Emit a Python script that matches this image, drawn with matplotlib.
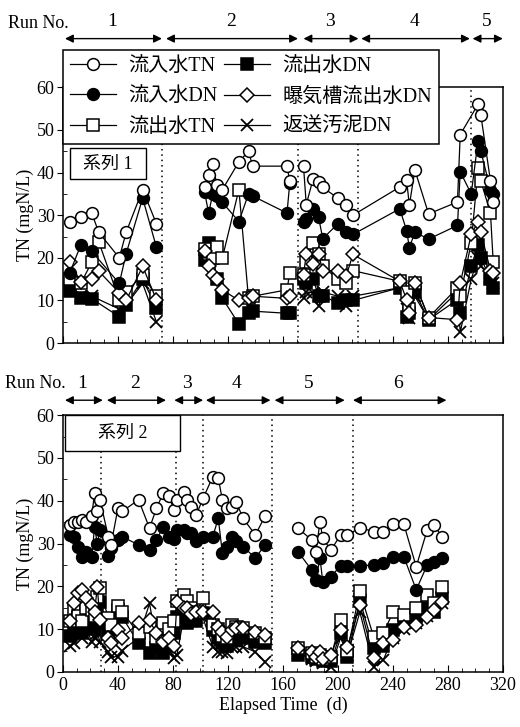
import numpy as np
import matplotlib
matplotlib.use("Agg")
import matplotlib.pyplot as plt
import matplotlib.transforms as mtransforms
from matplotlib.patches import Rectangle
from matplotlib.lines import Line2D
from matplotlib.ticker import MultipleLocator

plt.rcParams["font.family"] = ["Liberation Serif", "Noto Sans CJK JP"]
plt.rcParams["font.size"] = 12

# ---- series 1 (top) ----
days_s1 = [5, 13, 21, 26, 41, 46, 58, 68,
           103, 106, 109, 112, 116, 128, 135, 138, 163, 165,
           175, 177, 182, 186, 189, 200, 206, 211,
           245, 250, 252, 256, 266, 287, 289,
           297, 302, 304, 311, 313]
inf_tn_s1 = [28.5, 29.5, 30.5, 26, 20, 26, 36, 28,
             36.5, 39.5, 42, 37, 36, 42.5, 45, 41.5, 41.5, 38,
             41.5, 32.5, 38.5, 37.8, 36.5, 34, 32.3, 30,
             36.6, 38.2, 32.3, 40.6, 30.3, 33.1, 48.9,
             np.nan, 56, 53.5, 38, 33]
inf_dn_s1 = [16.5, 23, 21.5, np.nan, 14, 21, 34, 22.5,
             35.5, 30.5, 35, 34.5, 33, 28.5, 35, 34.5, 30.5, 37.5,
             28.5, 29, 31.5, 29.5, 24.5, 28, 26, 25.5,
             31.5, 26.4, 22.4, 26, 24.4, 27.6, 40.2,
             35, 47.5, 45, 36, 35]
eff_tn_s1 = [15, 14, 19, 23.8, 10.2, 12, 16, 11,
             22, 21, 20, 22.5, 20, 36, 10.5, 11, 12.5, 16.5,
             16, 19, 23.5, 21, 18, 15, 14, 17,
             14.5, 12, 8, 14, 6, 13, 11,
             23.5, 41, 38, 30.5, 19]
eff_dn_s1 = [12.2, 10.7, 10.4, np.nan, 6.2, 9, 15, 8.3,
             19.5, 23.5, 21, 15, 10.5, 4.5, 7, 7.5, 7, 7,
             15, 14, 15, 11, 11, 9.5, 10, 10,
             13, 6.2, 7, 12, 5.5, 10.2, 7,
             18, 23, 20, 15, 13]
aer_dn_s1 = [19, 14.3, 15, 16.9, 11.8, 10, 18, 10.2,
             21.5, 18, 16, 15, 12.5, 10, 10.5, 11, 10.5, 11,
             16, 20.8, 18.5, 20.8, 17, 17, 15.7, 20.8,
             14.5, 10.2, 7, 14.1, 6, 5.5, 14,
             25.5, 28.5, 26, 17, 16.5]
ret_dn_s1 = [13, 11, 11, np.nan, 8, 9, 14, 5,
             np.nan, np.nan, np.nan, np.nan, np.nan, np.nan, np.nan, np.nan, np.nan, np.nan,
             10.5, 12, 11.8, 8.6, 12, 11, 8.6, 11,
             13, 8, 6, 11, 5.5, 12, 2.5,
             15, 20, 18, 15.5, 14]
segs_s1 = [(0, 8), (8, 18), (18, 38)]

# ---- series 2 (bottom) ----
days_s2 = [5, 8, 11, 14, 17, 21, 23, 25, 27, 33, 35, 40, 43, 55, 63, 68, 73,
           77, 81, 83, 88, 90, 93, 97, 102, 109, 113, 116, 119, 123, 126, 131, 140, 147,
           171, 181, 184, 187, 189, 195, 202, 207, 216, 226, 233, 240, 248, 257, 265, 270, 276]
inf_tn_s2 = [34.3, 35, 35.1, 35.5, 35, 36.5, 41.8, 37.5, 40.2, 31.6, 29.7, 38.2, 37.5, 40.2, 33.6, 38.2, 41.8,
             41, 37.8, 40.2, 42.1, 40.2, 38.6, 36.7, 40.6, 45.6, 45.3, 40.2, 38.2, 38.6, 39.8, 35.9, 32, 36.4,
             33.6, 30.8, 28.1, 35.1, 31.2, 28.5, 32, 32, 33.7, 32.8, 32.8, 34.5, 34.5, 24.6, 33.2, 34.3, 31.5]
inf_dn_s2 = [32, 31.6, 29.3, 26.9, 28, 26.9, 33.9, 30, 33.2, 27.1, 29, 30.8, 31.6, 29.7, 28.5, 30.8, 33.9,
             31.6, 31, 33.2, 33.2, 32.5, 32.4, 30.5, 31.6, 31.6, 35.9, 27.7, 29.3, 31.6, 30.5, 29.3, 26.6, 29.7,
             28.1, 23.8, 21.5, 26.6, 21.1, 22.3, 24.8, 24.8, 24.8, 25, 25.4, 26.9, 26.9, 19.2, 25, 25.8, 26.6]
eff_tn_s2 = [12, 14.5, 13, 12, 15, 14.5, 13, 17.5, 19.5, 12.5, 11, 15.3, 14.1, 9, 10.6, 8, 11.4,
             10, 12, 16.5, 18, 16.5, 15, 14, 17.2, 11, 10, 8.5, 8, 11, 10.5, 10.2, 9, 7.9,
             5.5, 4.5, 3.5, 4, 3, 3.5, 12.1, 5, 18.8, 8.2, 9, 13.9, 13.3, 14.9, 18, 16, 19.9]
eff_dn_s2 = [8.5, 9.8, 10, 9, 11, 14.5, 10, 15, 16.4, 9.8, 10, 14.5, 12.9, 6.7, 4.4, 5.5, 4.4,
             6, 9, 12.9, 14, 11.4, 13, 12, 13.7, 9.8, 7.9, 6.7, 6, 8, 7.5, 8, 7, 6.7,
             4, 3.5, 3, 3.5, 2.5, 2.5, 9, 3.6, 16.8, 5.5, 6, 9.8, 12.1, 12.9, 14.9, 14, 17.2]
aer_dn_s2 = [12, 16, 18.5, 19.2, 17.2, 15.7, 14, 19.8, 12.1, 8, 6.7, 9.8, 8, 11.4, 12.1, 9, 7,
             8, 6, 16.4, 14.9, 15, 13.5, 14.1, 14.1, 14.1, 10.6, 9.4, 8.2, 9.8, 10.2, 10.2, 9.4, 8.6,
             5.5, 4.7, 3.6, 4.7, 3, 4, 9.8, 5.9, 15.7, 3.2, 6.7, 7.5, 10.6, 11, 12.9, 14.5, 16.4]
ret_dn_s2 = [6, 6.7, 9, 8, 10, 7.1, 8, 9, 7.1, 4.7, 3.5, 3.6, 5, 8, 16, 7, 4.7,
             5, 3.2, 4, 13, 12, 12, 13, 12.5, 5.9, 4.7, 4.7, 4.4, 5.9, 5.9, 5.9, 4.7, 2.4,
             4.5, 3, 2.5, 3.5, 2, 1.2, 8, 4, 14, 1.2, 2.8, 8, 10, 11.5, 13, 14, 16]
segs_s2 = [(0, 34), (34, 51)]

labels = ["流入水TN", "流入水DN", "流出水TN", "流出水DN", "曝気槽流出水DN", "返送汚泥DN"]

run_names_s1 = ["1", "2", "3", "4", "5"]
run_start_s1 = [1.5, 75, 175, 217, 298]
run_end_s1 = [72, 171, 215, 296, 320]
bounds_s1 = [72, 171, 214.5, 297]

run_names_s2 = ["1", "2", "3", "4", "5", "6"]
run_start_s2 = [1.5, 32, 81, 104, 154, 211]
run_end_s2 = [29, 75, 102, 151, 205, 279]
bounds_s2 = [28, 82, 102, 152, 211]

# marker, facecolor, size
styles = [("o", "white", 8.5), ("o", "black", 8.5), ("s", "white", 8),
          ("s", "black", 8), ("D", "white", 6.8), ("x", "black", 8.5)]
draw_order = [5, 3, 2, 4, 1, 0]


def draw_series(ax, days, series, segs):
    x = np.array(days, dtype=float)
    for i in draw_order:
        marker, face, ms = styles[i]
        y = np.array(series[i], dtype=float)
        for a, b in segs:
            xs, ys = x[a:b], y[a:b]
            m = ~np.isnan(ys)
            ax.plot(xs[m], ys[m], color="black", lw=0.9, marker=marker,
                    mfc=face, mec="black", ms=ms, mew=1.1 if marker != "x" else 1.3)


def setup_axes(ax, show_xlabels):
    ax.set_xlim(0, 320)
    ax.set_ylim(0, 60)
    ax.xaxis.set_major_locator(MultipleLocator(40))
    ax.xaxis.set_minor_locator(MultipleLocator(10))
    ax.yaxis.set_major_locator(MultipleLocator(10))
    ax.yaxis.set_minor_locator(MultipleLocator(5))
    ax.tick_params(axis="x", which="both", direction="in", top=False)
    ax.tick_params(axis="x", which="major", length=5, labelsize=13)
    ax.tick_params(axis="x", which="minor", length=3)
    ax.tick_params(axis="y", which="major", direction="out", length=4, labelsize=13, pad=2)
    ax.tick_params(axis="y", which="minor", direction="in", length=3)
    if not show_xlabels:
        ax.set_xticklabels([])
    ax.set_ylabel("TN (mgN/L)", fontsize=13, labelpad=2)
    for s in ax.spines.values():
        s.set_linewidth(1.1)


def draw_runs(ax, names, starts, ends, y_arrow, y_text):
    trans = mtransforms.blended_transform_factory(ax.transData, ax.transAxes)
    for name, a, b in zip(names, starts, ends):
        ax.annotate("", xy=(b, y_arrow), xytext=(a, y_arrow), xycoords=trans, textcoords=trans,
                    arrowprops=dict(arrowstyle="<|-|>", color="black", lw=1.0,
                                    mutation_scale=12, shrinkA=0, shrinkB=0),
                    annotation_clip=False)
        ax.text((a + b) / 2 - 1, y_text, name, transform=trans, ha="center", va="center", fontsize=14)


fig = plt.figure(figsize=(5.2, 7.27), dpi=100)
ax1 = fig.add_axes([0.121, 0.528, 0.846, 0.352])
ax2 = fig.add_axes([0.121, 0.0757, 0.846, 0.3533])

s1 = [inf_tn_s1, inf_dn_s1, eff_tn_s1, eff_dn_s1, aer_dn_s1, ret_dn_s1]
s2 = [inf_tn_s2, inf_dn_s2, eff_tn_s2, eff_dn_s2, aer_dn_s2, ret_dn_s2]

for ax, bounds in ((ax1, bounds_s1), (ax2, bounds_s2)):
    for b in bounds:
        ax.axvline(b, color="black", ls=(0, (1, 2.5)), lw=1.1, zorder=1)

draw_series(ax1, days_s1, s1, segs_s1)
draw_series(ax2, days_s2, s2, segs_s2)
setup_axes(ax1, False)
setup_axes(ax2, True)
ax2.set_xlabel("Elapsed Time  (d)", fontsize=13, labelpad=2)

draw_runs(ax1, run_names_s1, run_start_s1, run_end_s1, 1.19, 1.255)
draw_runs(ax2, run_names_s2, run_start_s2, run_end_s2, 1.058, 1.125)
fig.text(0.015, 1 - 23 / 727, "Run No.", fontsize=13, va="center")
fig.text(0.01, 1 - 383 / 727, "Run No.", fontsize=13, va="center")

# series label boxes
ax1.add_patch(Rectangle((0.016, 0.64), 0.173, 0.122, transform=ax1.transAxes,
                        facecolor="white", edgecolor="black", lw=1.0, zorder=5))
ax1.text(0.1025, 0.70, "系列 1", transform=ax1.transAxes, ha="center", va="center",
         fontsize=13, zorder=6)
ax2.add_patch(Rectangle((0.004, 0.862), 0.262, 0.138, transform=ax2.transAxes,
                        facecolor="white", edgecolor="black", lw=1.0, zorder=5))
ax2.text(0.135, 0.93, "系列 2", transform=ax2.transAxes, ha="center", va="center",
         fontsize=13, zorder=6)

# legend
handles = []
for i, lab in enumerate(labels):
    marker, face, ms = styles[i]
    handles.append(Line2D([], [], color="black", lw=0.9, marker=marker, mfc=face,
                          mec="black", ms=ms, mew=1.1 if marker != "x" else 1.3, label=lab))
leg = fig.legend(handles=handles, ncol=2, loc="upper left", bbox_to_anchor=(0.121, 0.931),
                 frameon=True, fancybox=False, edgecolor="black", framealpha=1,
                 fontsize=14.5, handlelength=2.3, handletextpad=0.6, columnspacing=0.3,
                 labelspacing=0.55, borderpad=0.35, borderaxespad=0)
leg.get_frame().set_linewidth(1.1)

fig.savefig("out.png", dpi=100)
